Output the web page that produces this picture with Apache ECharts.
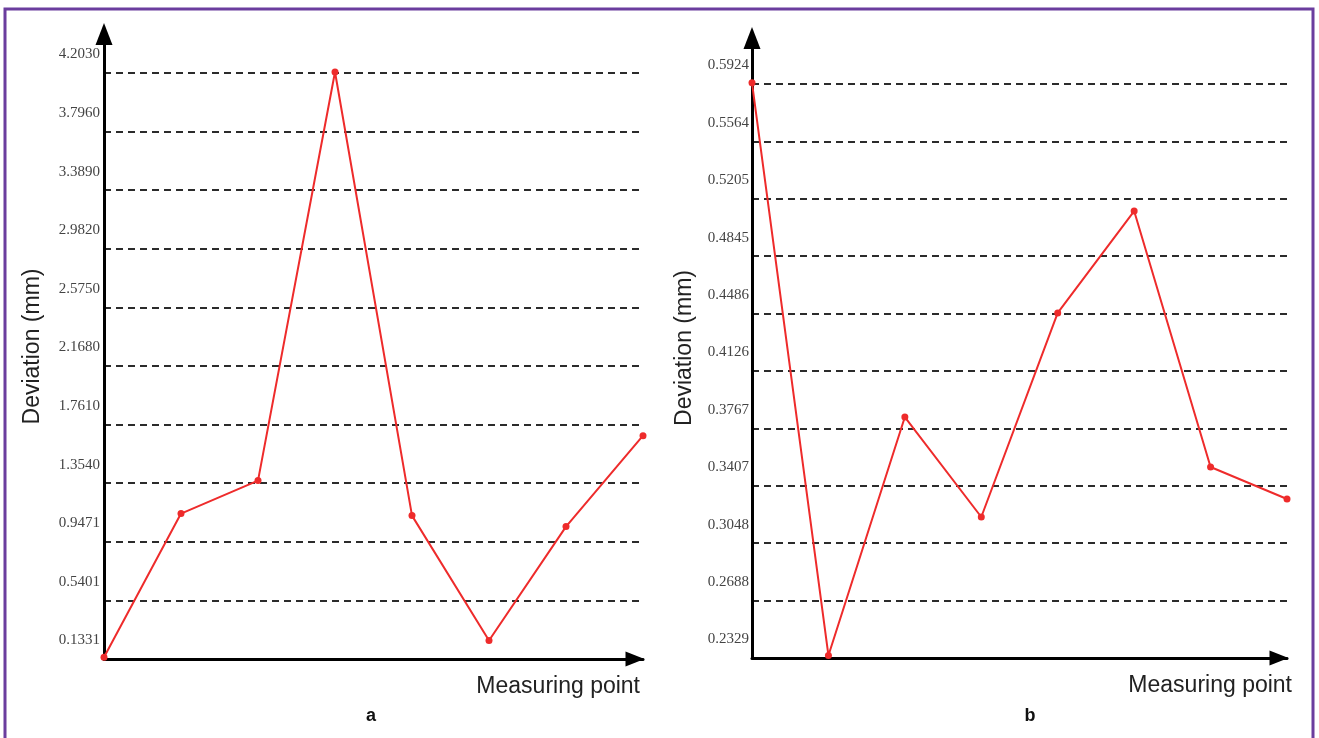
<!DOCTYPE html>
<html>
<head>
<meta charset="utf-8">
<title>Deviation at measuring points</title>
<script src="https://cdn.jsdelivr.net/npm/echarts@6/dist/echarts.min.js"></script>
<style>
  html, body { margin: 0; padding: 0; background: #ffffff; }
  #chart { width: 1319px; height: 738px; }
</style>
</head>
<body>
<div id="chart"></div>
<script>
// Measuring points along the x axis (shared by both panels)
const measuringPoints = [1, 2, 3, 4, 5, 6, 7, 8];

// Panel a: deviation (mm) at each measuring point
const deviationA = [0.145, 1.143, 1.372, 4.21, 1.129, 0.2615, 1.0525, 1.684];
// Panel b: deviation (mm) at each measuring point
const deviationB = [0.5931, 0.2345, 0.3838, 0.3212, 0.4490, 0.5128, 0.3525, 0.3325];

// Tick labels printed on the y axes (bottom to top)
const tickLabelsA = ['0.1331', '0.5401', '0.9471', '1.3540', '1.7610', '2.1680',
                     '2.5750', '2.9820', '3.3890', '3.7960', '4.2030'];
const tickLabelsB = ['0.2329', '0.2688', '0.3048', '0.3407', '0.3767', '0.4126',
                     '0.4486', '0.4845', '0.5205', '0.5564', '0.5924'];

const AXIS_NAME_Y = 'Deviation (mm)';
const AXIS_NAME_X = 'Measuring point';

const chart = echarts.init(document.getElementById('chart'), null, { renderer: 'canvas' });

function tickStep(labels) {
  const first = parseFloat(labels[0]);
  const last = parseFloat(labels[labels.length - 1]);
  return +((last - first) / (labels.length - 1)).toFixed(5);
}

const sansFont = '"Liberation Sans", Arial, sans-serif';
const serifFont = '"Liberation Serif", "Times New Roman", serif';

function makeXAxis(gridIndex, nameGap) {
  return {
    type: 'category',
    gridIndex: gridIndex,
    data: measuringPoints,
    boundaryGap: false,
    name: AXIS_NAME_X,
    nameLocation: 'end',
    nameGap: nameGap,
    nameTextStyle: {
      fontFamily: sansFont,
      fontSize: 23,
      color: '#222',
      align: 'right',
      verticalAlign: 'top',
      lineHeight: 23,
      padding: [16, 0, 0, 0]
    },
    axisLine: {
      onZero: false,
      symbol: ['none', 'triangle'],
      symbolSize: [15, 19],
      symbolOffset: [0, -8],
      lineStyle: { color: '#000', width: 3 }
    },
    axisTick: { show: false },
    axisLabel: { show: false },
    splitLine: { show: false }
  };
}

function makeYAxis(gridIndex, labels, max, nameGap, labelMargin) {
  return {
    type: 'value',
    gridIndex: gridIndex,
    min: parseFloat(labels[0]),
    max: max,
    interval: tickStep(labels),
    name: AXIS_NAME_Y,
    nameLocation: 'middle',
    nameRotate: 90,
    nameGap: nameGap,
    nameTextStyle: { fontFamily: sansFont, fontSize: 23, color: '#222' },
    axisLine: {
      show: true,
      onZero: false,
      symbol: ['none', 'triangle'],
      symbolSize: [17, 22],
      lineStyle: { color: '#000', width: 3 }
    },
    axisTick: { show: false },
    axisLabel: {
      margin: labelMargin,
      fontFamily: serifFont,
      fontSize: 15,
      lineHeight: 15,
      color: '#444',
      verticalAlign: 'bottom',
      padding: [0, 0, 11, 0],
      showMaxLabel: false,
      formatter: function (value, index) {
        return labels[index] !== undefined ? labels[index] : '';
      }
    },
    splitLine: {
      show: true,
      showMinLine: false,
      showMaxLine: false,
      lineStyle: { color: '#2b2b2b', width: 2.2, type: [7, 5] }
    }
  };
}

function makeSeries(axisIndex, data) {
  return {
    type: 'line',
    xAxisIndex: axisIndex,
    yAxisIndex: axisIndex,
    data: data,
    symbol: 'circle',
    symbolSize: 7,
    showSymbol: true,
    clip: false,
    lineStyle: { color: '#ee2b2b', width: 2 },
    itemStyle: { color: '#ee2b2b' },
    z: 5
  };
}

chart.setOption({
  animation: false,
  backgroundColor: '#ffffff',
  grid: [
    { left: 104, right: 676, top: 34, bottom: 79 },
    { left: 752, right: 32, top: 38, bottom: 80 }
  ],
  xAxis: [makeXAxis(0, -3), makeXAxis(1, 5)],
  yAxis: [
    makeYAxis(0, tickLabelsA, 4.4738, 60, 4),
    makeYAxis(1, tickLabelsB, 0.6212, 56, 3)
  ],
  series: [makeSeries(0, deviationA), makeSeries(1, deviationB)],
  graphic: [
    {
      type: 'rect',
      shape: { x: 5, y: 9, width: 1308, height: 780 },
      style: { fill: 'none', stroke: '#6b3d9e', lineWidth: 3 },
      silent: true
    },
    {
      type: 'text',
      x: 371, y: 716,
      style: {
        text: 'a', fill: '#111', font: 'bold 18px ' + sansFont,
        textAlign: 'center', textVerticalAlign: 'middle'
      }
    },
    {
      type: 'text',
      x: 1030, y: 716,
      style: {
        text: 'b', fill: '#111', font: 'bold 18px ' + sansFont,
        textAlign: 'center', textVerticalAlign: 'middle'
      }
    }
  ]
});
</script>
</body>
</html>
